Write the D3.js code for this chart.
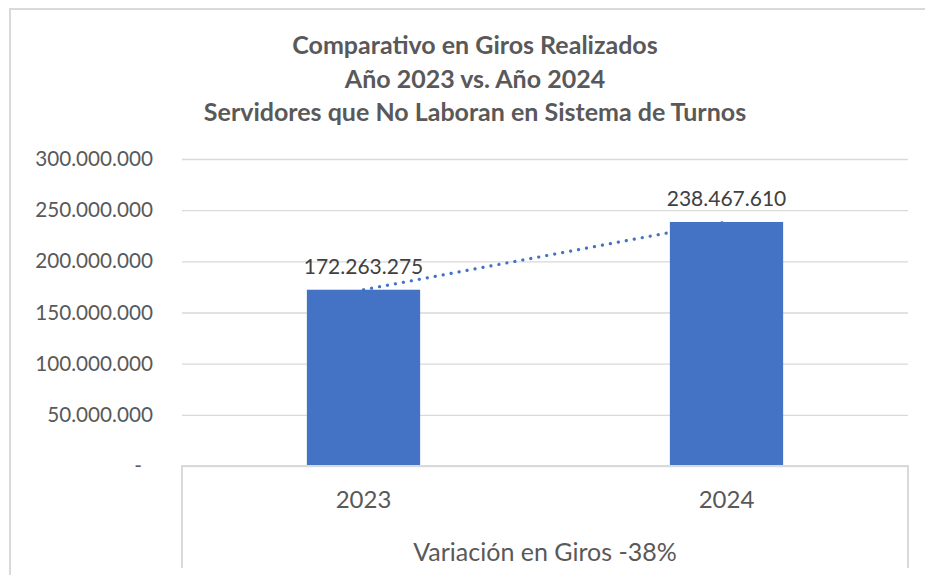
<!DOCTYPE html>
<html>
<head>
<meta charset="utf-8">
<script src="https://cdn.jsdelivr.net/npm/d3@7"></script>
<style>
  body { margin: 0; background: #fff; }
  text { font-family: Lato, "Open Sans", sans-serif; }
</style>
</head>
<body>
<div id="chart"></div>
<script>
const width = 925;
const height = 575;
const margin = { top: 159, right: 17, bottom: 109, left: 182 };

const titleLines = ['Comparativo en Giros Realizados', 'Año 2023 vs. Año 2024', 'Servidores que No Laboran en Sistema de Turnos'];
const years = ['2023', '2024'];
const giros = [172263275, 238467610];
const yTicks = [0, 50000000, 100000000, 150000000, 200000000, 250000000, 300000000];
const groupLabel = 'Variación en Giros -38%';

const fmt = d => d === 0 ? '-' : d3.format(',')(d).replace(/,/g, '.');

const svg = d3.select('#chart')
    .append('svg')
    .attr('width', width)
    .attr('height', height);

// chart area border (runs off the right and bottom of the picture)
svg.append('rect')
    .attr('x', 10).attr('y', 9)
    .attr('width', 940).attr('height', 600)
    .attr('fill', 'none')
    .attr('stroke', '#d9d9d9')
    .attr('stroke-width', 2);

svg.append('g')
    .selectAll('text')
    .data(titleLines)
    .join('text')
      .attr('x', 475)
      .attr('y', (d, i) => 54 + i * 33.5)
      .attr('text-anchor', 'middle')
      .attr('font-weight', 'bold')
      .attr('font-size', '25px')
      .attr('fill', '#595959')
      .text(d => d);

const x = d3.scaleBand()
    .domain(years)
    .range([margin.left, width - margin.right])
    .padding(0);

const y = d3.scaleLinear()
    .domain([0, 300000000])
    .range([height - margin.bottom, margin.top]);

const barW = x.bandwidth() * 0.312;

// gridlines + tick labels
const yAxis = svg.append('g')
    .attr('transform', `translate(${margin.left}, 0)`)
    .call(d3.axisLeft(y).tickValues(yTicks).tickFormat(fmt).tickSize(-(width - margin.right - margin.left)).tickPadding(29));
yAxis.select('.domain').remove();
yAxis.selectAll('.tick line').attr('stroke', '#d9d9d9').attr('stroke-width', 1.3);
yAxis.selectAll('.tick text')
    .attr('font-size', '20.7px')
    .attr('fill', '#595959')
    .attr('dx', d => d === 0 ? -11 : 0);

// bars
svg.append('g')
    .attr('fill', '#4472c4')
    .selectAll('rect')
    .data(giros)
    .join('rect')
      .attr('x', (d, i) => x(years[i]) + x.bandwidth() / 2 - barW / 2)
      .attr('y', d => y(d))
      .attr('width', barW)
      .attr('height', d => y(0) - y(d));

// linear trend line (dotted)
const trend = d3.line()
    .x((d, i) => x(years[i]) + x.bandwidth() / 2)
    .y(d => y(d));
svg.append('path')
    .datum(giros)
    .attr('d', trend)
    .attr('fill', 'none')
    .attr('stroke', '#4472c4')
    .attr('stroke-width', 3.2)
    .attr('stroke-linecap', 'round')
    .attr('stroke-dasharray', '0.1 8');

// data labels
svg.append('g')
    .selectAll('text')
    .data(giros)
    .join('text')
      .attr('x', (d, i) => x(years[i]) + x.bandwidth() / 2)
      .attr('y', d => y(d) - 16)
      .attr('text-anchor', 'middle')
      .attr('font-size', '21px')
      .attr('fill', '#404040')
      .text(fmt);

// category axis with outer group box
const base = y(0);
svg.append('path')
    .attr('d', `M${margin.left},568V${base}H${width - margin.right}V568`)
    .attr('fill', 'none')
    .attr('stroke', '#d9d9d9')
    .attr('stroke-width', 2);

svg.append('g')
    .selectAll('text')
    .data(years)
    .join('text')
      .attr('x', d => x(d) + x.bandwidth() / 2)
      .attr('y', 508)
      .attr('text-anchor', 'middle')
      .attr('font-size', '24px')
      .attr('fill', '#595959')
      .text(d => d);

svg.append('text')
    .attr('x', (margin.left + width - margin.right) / 2)
    .attr('y', 561)
    .attr('text-anchor', 'middle')
    .attr('font-size', '25px')
    .attr('fill', '#595959')
    .text(groupLabel);
</script>
</body>
</html>
